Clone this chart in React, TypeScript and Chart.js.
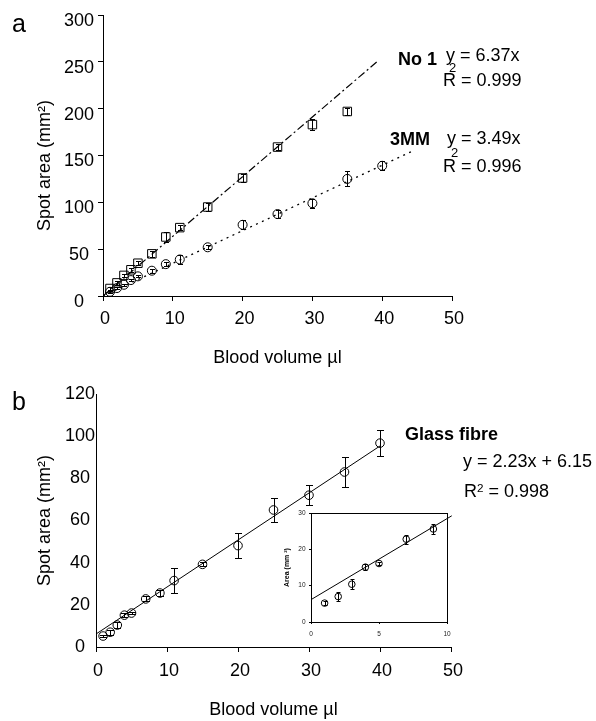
import React, { useEffect, useRef } from "react";
import { Chart, registerables } from "chart.js";

Chart.register(...registerables);

const FONT = '"Liberation Sans", Arial, Helvetica, sans-serif';
Chart.defaults.font.family = FONT;
Chart.defaults.color = "#000";

// ---------- Panel a data ----------
const volumeNo1 = [1, 2, 3, 4, 5, 7, 9, 11, 15, 20, 25, 30, 35];
const areaNo1 = [8, 14, 22, 28, 35, 45, 63, 73, 95, 126, 159, 183, 197];
const errNo1 = [2, 2, 2, 2, 2, 3, 5, 3, 4, 4, 3, 6, 4];

const volume3MM = [1, 2, 3, 4, 5, 7, 9, 11, 15, 20, 25, 30, 35, 40];
const area3MM = [4.5, 8.5, 12, 17, 21, 27, 34, 39, 52, 76, 87.5, 99, 125, 139];
const err3MM = [1, 1, 1, 1.5, 1, 2, 2, 5, 2, 5, 4, 5, 8, 5];

const fitNo1X = [0, 39.4];
const fitNo1Y = [0, 251];
const fit3MMX = [0, 44.3];
const fit3MMY = [0, 154.6];

const ticksAX = [0, 10, 20, 30, 40, 50];
const ticksAY = [0, 50, 100, 150, 200, 250, 300];

// ---------- Panel b data ----------
const volumeGF = [1, 2, 3, 4, 5, 7, 9, 11, 15, 20, 25, 30, 35, 40];
const areaGF = [5.2, 7, 10.4, 15.1, 16.1, 22.8, 25.6, 31.5, 39.2, 48.1, 65, 72, 83, 96.7];
const errGF = [0.5, 1.2, 1.4, 0.8, 0.5, 1.2, 1.4, 6, 1, 6, 5.6, 4.7, 7, 6];

const fitGFX = [0, 40];
const fitGFY = [6.15, 95.35];

const ticksBX = [0, 10, 20, 30, 40, 50];
const ticksBY = [0, 20, 40, 60, 80, 100, 120];

// ---------- Inset data (first points of panel b) ----------
const insetCount = 7;
const fitInsetX = [0, 10.35];
const fitInsetY = [6.15, 29.23];
const ticksInsetX = [0, 5, 10];
const ticksInsetY = [0, 10, 20, 30];

const pts = (xs: number[], ys: number[]) => xs.map((x, i) => ({ x, y: ys[i] }));

const errorBarPlugin = {
  id: "errorBars",
  afterDatasetsDraw(chart: any) {
    const ctx = chart.ctx;
    chart.data.datasets.forEach((ds: any, di: number) => {
      if (!ds.errorBars) return;
      const meta = chart.getDatasetMeta(di);
      const xs = chart.scales[meta.xAxisID];
      const ys = chart.scales[meta.yAxisID];
      const c = ds.capHalf ?? 3;
      ctx.save();
      ctx.strokeStyle = "#000";
      ctx.lineWidth = 1;
      ds.data.forEach((p: any, i: number) => {
        const e = ds.errorBars[i];
        if (!e) return;
        const x = Math.round(xs.getPixelForValue(p.x)) + 0.5;
        const y1 = Math.round(ys.getPixelForValue(p.y - e)) + 0.5;
        const y2 = Math.round(ys.getPixelForValue(p.y + e)) + 0.5;
        ctx.beginPath();
        ctx.moveTo(x, y1);
        ctx.lineTo(x, y2);
        ctx.moveTo(x - c, y1);
        ctx.lineTo(x + c, y1);
        ctx.moveTo(x - c, y2);
        ctx.lineTo(x + c, y2);
        ctx.stroke();
      });
      ctx.restore();
    });
  },
};

const framePlugin = {
  id: "frame",
  afterDraw(chart: any, _args: any, opts: any) {
    if (!opts || !opts.enabled) return;
    const { left, top, right, bottom } = chart.chartArea;
    const ctx = chart.ctx;
    ctx.save();
    ctx.strokeStyle = "#000";
    ctx.lineWidth = 1;
    ctx.strokeRect(Math.round(left) + 0.5, Math.round(top) + 0.5, Math.round(right - left), Math.round(bottom - top));
    ctx.restore();
  },
};

const setTicks = (arr: number[]) => (scale: any) => {
  scale.ticks = arr.map((v) => ({ value: v }));
};

function ChartBox(props: { left: number; top: number; width: number; height: number; config: () => any }) {
  const ref = useRef<HTMLCanvasElement | null>(null);
  useEffect(() => {
    if (!ref.current) return;
    const chart = new Chart(ref.current, props.config());
    return () => chart.destroy();
  }, []);
  return (
    <canvas
      ref={ref}
      width={props.width}
      height={props.height}
      style={{ position: "absolute", left: props.left, top: props.top, width: props.width, height: props.height, display: "block" }}
    />
  );
}

const baseOptions = (padding: any) => ({
  responsive: false,
  animation: false,
  events: [],
  layout: { padding },
  plugins: { legend: { display: false }, tooltip: { enabled: false }, title: { display: false } },
});

const configA = () => ({
  type: "scatter",
  data: {
    datasets: [
      {
        label: "No 1 fit",
        data: pts(fitNo1X, fitNo1Y),
        showLine: true,
        borderColor: "#000",
        borderWidth: 1.2,
        borderDash: [8, 3, 2, 3],
        pointRadius: 0,
      },
      {
        label: "3MM fit",
        data: pts(fit3MMX, fit3MMY),
        showLine: true,
        borderColor: "#000",
        borderWidth: 1.3,
        borderDash: [2, 4.5],
        pointRadius: 0,
      },
      {
        label: "No 1",
        data: pts(volumeNo1, areaNo1),
        pointStyle: "rect",
        pointRadius: 6,
        pointBorderColor: "#000",
        pointBackgroundColor: "rgba(0,0,0,0)",
        pointBorderWidth: 1,
        errorBars: errNo1,
        capHalf: 2.5,
      },
      {
        label: "3MM",
        data: pts(volume3MM, area3MM),
        pointStyle: "circle",
        pointRadius: 4.5,
        pointBorderColor: "#000",
        pointBackgroundColor: "rgba(0,0,0,0)",
        pointBorderWidth: 1,
        errorBars: err3MM,
        capHalf: 2.5,
      },
    ],
  },
  options: {
    ...baseOptions({ left: 0, right: 144, top: 15, bottom: 0 }),
    scales: {
      x: {
        type: "linear",
        min: 0,
        max: 50,
        afterBuildTicks: setTicks(ticksAX),
        afterFit: (s: any) => {
          s.height = 74;
        },
        grid: { drawOnChartArea: false, color: "#000", tickLength: 5 },
        border: { color: "#000", width: 1 },
        ticks: { font: { size: 18 }, color: "#000", padding: 7, labelOffset: 2, maxRotation: 0, autoSkip: false },
        title: { display: true, text: "Blood volume µl", font: { size: 18 }, color: "#000", padding: { top: 0, bottom: 1 } },
      },
      y: {
        type: "linear",
        min: 0,
        max: 300,
        afterBuildTicks: setTicks(ticksAY),
        afterFit: (s: any) => {
          s.width = 103;
        },
        grid: { drawOnChartArea: false, color: "#000", tickLength: 5 },
        border: { color: "#000", width: 1 },
        ticks: { font: { size: 18 }, color: "#000", padding: 4, labelOffset: 6, crossAlign: "center", autoSkip: false },
        title: {
          display: true,
          text: "Spot area (mm²)\u00a0\u00a0\u00a0\u00a0",
          font: { size: 18 },
          color: "#000",
          padding: { top: 34, bottom: 0 },
        },
      },
    },
  },
  plugins: [errorBarPlugin],
});

const configB = () => ({
  type: "scatter",
  data: {
    datasets: [
      {
        label: "Glass fibre fit",
        data: pts(fitGFX, fitGFY),
        showLine: true,
        borderColor: "#000",
        borderWidth: 1,
        pointRadius: 0,
      },
      {
        label: "Glass fibre",
        data: pts(volumeGF, areaGF),
        pointStyle: "circle",
        pointRadius: 4.3,
        pointBorderColor: "#000",
        pointBackgroundColor: "rgba(0,0,0,0)",
        pointBorderWidth: 1,
        errorBars: errGF,
        capHalf: 3.5,
      },
    ],
  },
  options: {
    ...baseOptions({ left: 0, right: 145, top: 24, bottom: 0 }),
    scales: {
      x: {
        type: "linear",
        min: 0,
        max: 50,
        afterBuildTicks: setTicks(ticksBX),
        afterFit: (s: any) => {
          s.height = 74;
        },
        grid: { drawOnChartArea: false, color: "#000", tickLength: 5 },
        border: { color: "#000", width: 1 },
        ticks: { font: { size: 18 }, color: "#000", padding: 8.5, labelOffset: 2, maxRotation: 0, autoSkip: false },
        title: { display: true, text: "Blood volume µl", font: { size: 18 }, color: "#000", padding: { top: 0, bottom: 0 } },
      },
      y: {
        type: "linear",
        min: 0,
        max: 120,
        afterBuildTicks: setTicks(ticksBY),
        afterFit: (s: any) => {
          s.width = 96;
        },
        grid: { drawOnChartArea: false, drawTicks: false, color: "#000", tickLength: 0 },
        border: { color: "#000", width: 1 },
        ticks: { font: { size: 18 }, color: "#000", padding: 1, labelOffset: 0, crossAlign: "center", autoSkip: false },
        title: { display: true, text: "Spot area (mm²)", font: { size: 18 }, color: "#000", padding: { top: 34, bottom: 0 } },
      },
    },
  },
  plugins: [errorBarPlugin],
});

const configInset = () => ({
  type: "scatter",
  data: {
    datasets: [
      {
        label: "Inset fit",
        data: pts(fitInsetX, fitInsetY),
        showLine: true,
        borderColor: "#000",
        borderWidth: 1,
        pointRadius: 0,
        clip: { left: 0, top: 0, right: 8, bottom: 0 },
      },
      {
        label: "Inset",
        data: pts(volumeGF.slice(0, insetCount), areaGF.slice(0, insetCount)),
        pointStyle: "circle",
        pointRadius: 3.3,
        pointBorderColor: "#000",
        pointBackgroundColor: "rgba(0,0,0,0)",
        pointBorderWidth: 1,
        errorBars: errGF.slice(0, insetCount),
        capHalf: 2,
      },
    ],
  },
  options: {
    ...baseOptions({ left: 0, right: 13, top: 13, bottom: 0 }),
    plugins: { legend: { display: false }, tooltip: { enabled: false }, frame: { enabled: true } },
    scales: {
      x: {
        type: "linear",
        min: 0,
        max: 10,
        afterBuildTicks: setTicks(ticksInsetX),
        afterFit: (s: any) => {
          s.height = 23;
        },
        grid: { drawOnChartArea: false, color: "#000", tickLength: 2 },
        border: { color: "#000", width: 1 },
        ticks: { font: { size: 6.5 }, color: "#222", padding: 6, maxRotation: 0, autoSkip: false },
      },
      y: {
        type: "linear",
        min: 0,
        max: 30,
        afterBuildTicks: setTicks(ticksInsetY),
        afterFit: (s: any) => {
          s.width = 41;
        },
        grid: { drawOnChartArea: false, color: "#000", tickLength: 2 },
        border: { color: "#000", width: 1 },
        ticks: { font: { size: 6.5 }, color: "#222", padding: 3.5, autoSkip: false },
        title: {
          display: true,
          text: "Area (mm ²)",
          font: { size: 7, weight: "bold" },
          color: "#000",
          padding: { top: 12.8, bottom: 0 },
        },
      },
    },
  },
  plugins: [errorBarPlugin, framePlugin],
});

function Txt(props: { x: number; base: number; size: number; bold?: boolean; children: any }) {
  const { x, base, size, bold, children } = props;
  return (
    <div
      style={{
        position: "absolute",
        left: x,
        top: base - 0.8465 * size,
        fontSize: size,
        lineHeight: `${size}px`,
        fontWeight: bold ? "bold" : "normal",
        whiteSpace: "nowrap",
        fontFamily: FONT,
        color: "#000",
      }}
    >
      {children}
    </div>
  );
}

export default function App() {
  return (
    <div style={{ position: "absolute", left: 0, top: 0, width: 596, height: 721, background: "#fff", overflow: "hidden" }}>
      <ChartBox left={0} top={0} width={596} height={370} config={configA} />
      <ChartBox left={0} top={370} width={596} height={351} config={configB} />
      <ChartBox left={270} top={500} width={190} height={145} config={configInset} />

      <Txt x={12} base={32} size={25}>a</Txt>
      <Txt x={12} base={410} size={25}>b</Txt>

      <Txt x={398} base={65} size={18} bold>No 1</Txt>
      <Txt x={446} base={61} size={18}>y = 6.37x</Txt>
      <Txt x={449} base={72} size={13}>2</Txt>
      <Txt x={443} base={86} size={18}>R = 0.999</Txt>

      <Txt x={390} base={145} size={18} bold>3MM</Txt>
      <Txt x={447} base={144} size={18}>y = 3.49x</Txt>
      <Txt x={451} base={157} size={13}>2</Txt>
      <Txt x={443} base={172} size={18}>R = 0.996</Txt>

      <Txt x={405} base={440} size={18} bold>Glass fibre</Txt>
      <Txt x={463} base={467} size={18}>y = 2.23x + 6.15</Txt>
      <Txt x={464} base={497} size={18}>
        R<span style={{ position: "relative", top: "-0.42em", fontSize: "0.65em" }}>2</span> = 0.998
      </Txt>
    </div>
  );
}
